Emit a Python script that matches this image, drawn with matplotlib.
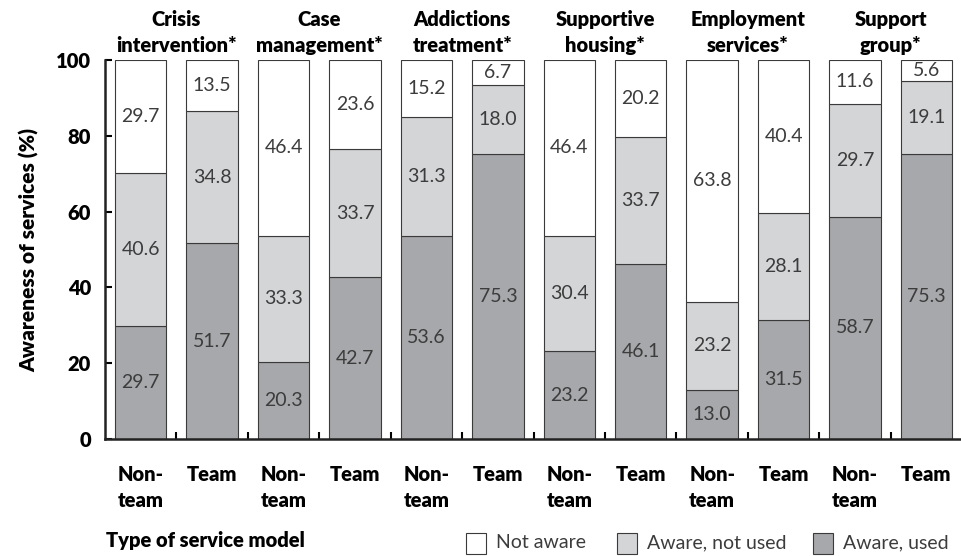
import matplotlib.pyplot as plt
from matplotlib.patches import Rectangle
import numpy as np

plt.rcParams['font.family'] = ['Lato', 'DejaVu Sans']

# data, Non-team / Team for each service
services = ["Crisis\nintervention*", "Case\nmanagement*", "Addictions\ntreatment*",
            "Supportive\nhousing*", "Employment\nservices*", "Support\ngroup*"]
bar_labels = ["Non-\nteam", "Team"] * 6
aware_used = [29.7, 51.7, 20.3, 42.7, 53.6, 75.3, 23.2, 46.1, 13.0, 31.5, 58.7, 75.3]
aware_not_used = [40.6, 34.8, 33.3, 33.7, 31.3, 18.0, 30.4, 33.7, 23.2, 28.1, 29.7, 19.1]
not_aware = [29.7, 13.5, 46.4, 23.6, 15.2, 6.7, 46.4, 20.2, 63.8, 40.4, 11.6, 5.6]

c_used = '#a7a8ab'
c_notused = '#d4d5d7'
c_notaware = '#ffffff'
edge = '#3a3a3a'
txt = '#3c3c3c'
BOLD = 'heavy'

fig = plt.figure(figsize=(9.61, 5.56), dpi=100)
ax = fig.add_axes([105/961, 1 - 439/556, 855/961, (439 - 60)/556])

x = np.arange(len(aware_used))
w = 0.72
used = np.array(aware_used)
notused = np.array(aware_not_used)
notaware = np.array(not_aware)

ax.bar(x, used, w, color=c_used, edgecolor=edge, linewidth=0.8)
ax.bar(x, notused, w, bottom=used, color=c_notused, edgecolor=edge, linewidth=0.8)
ax.bar(x, notaware, w, bottom=used + notused, color=c_notaware, edgecolor=edge, linewidth=0.8)

# values in the middle of each segment
for i in range(len(x)):
    segs = [(used[i], 0), (notused[i], used[i]), (notaware[i], used[i] + notused[i])]
    for val, b in segs:
        ax.text(x[i], b + val / 2, f"{val:.1f}", ha='center', va='center',
                fontsize=14, color=txt, fontweight='normal')

# group titles
for g, name in enumerate(services):
    ax.text(2 * g + 0.5, 101.4, name, ha='center', va='bottom', fontsize=14.5,
            fontweight=BOLD, linespacing=1.4, clip_on=False)

ax.set_xlim(-0.5, 11.47)
ax.set_ylim(0, 100)
ax.set_yticks([0, 20, 40, 60, 80, 100])
ax.set_xticks(x)
ax.set_xticklabels(bar_labels, fontsize=14.5, fontweight=BOLD, linespacing=1.4)
ax.set_xticks(np.arange(0.5, 11, 1), minor=True)
ax.tick_params(axis='x', which='major', length=0, pad=19)
ax.tick_params(axis='x', which='minor', direction='in', length=5, width=1.5)
ax.tick_params(axis='y', direction='in', length=5, width=1.5, pad=10, labelsize=14.5)
for lab in ax.get_yticklabels():
    lab.set_fontweight(BOLD)

for s in ['top', 'right']:
    ax.spines[s].set_visible(False)
for s in ['left', 'bottom']:
    ax.spines[s].set_linewidth(1.8)
    ax.spines[s].set_color('#222222')

ax.set_ylabel("Awareness of services (%)", fontsize=15, fontweight=BOLD, labelpad=12)

# footer: legend
fig.text(106/961, 1 - 541/556, "Type of service model", fontsize=14.5,
         fontweight=BOLD, va='center', ha='left')
legend_items = [("Not aware", c_notaware, 466), ("Aware, not used", c_notused, 617),
                ("Aware, used", c_used, 813)]
for name, col, px in legend_items:
    fig.patches.append(Rectangle((px/961, 1 - 554/556), 20/961, 21/556,
                                 transform=fig.transFigure, facecolor=col,
                                 edgecolor=edge, linewidth=0.8))
    fig.text((px + 30)/961, 1 - 543/556, name, fontsize=14, fontweight='normal',
             color=txt, va='center', ha='left')

fig.savefig("out.png", dpi=100)
